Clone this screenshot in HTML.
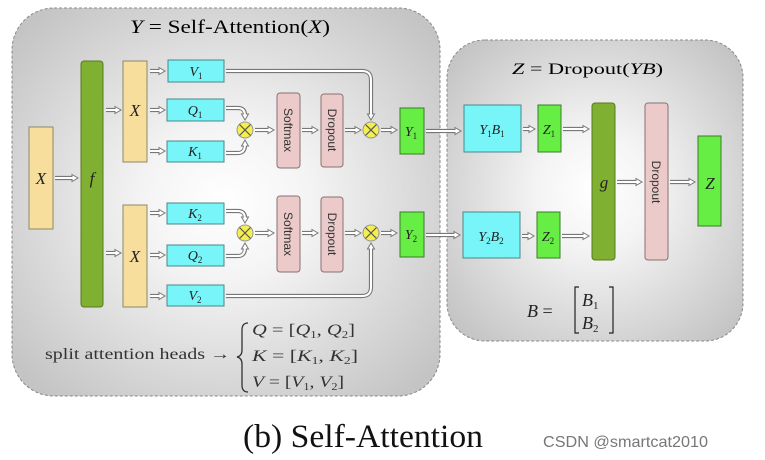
<!DOCTYPE html>
<html><head><meta charset="utf-8"><style>
html,body{margin:0;padding:0;background:#fff;width:765px;height:460px;overflow:hidden}
svg{display:block}
.m{font-family:"Liberation Serif",serif;font-style:italic}
.r{font-family:"Liberation Serif",serif}
.o{fill:none;stroke:#777;stroke-width:4.2}
.i{fill:none;stroke:#fff;stroke-width:2}
</style></head><body>
<svg width="765" height="460" viewBox="0 0 765 460" xmlns="http://www.w3.org/2000/svg">
<defs>
<radialGradient id="bg" cx="50%" cy="50%" r="65%">
<stop offset="0" stop-color="#ffffff"/><stop offset="0.3" stop-color="#f4f4f4"/><stop offset="1" stop-color="#c4c4c4"/>
</radialGradient>
<marker id="ah" markerUnits="userSpaceOnUse" markerWidth="10" markerHeight="10" refX="2" refY="5" orient="auto">
<path d="M1,1.5 L7,5 L1,8.5 Z" fill="#fff" stroke="#777" stroke-width="1"/>
</marker>
</defs>
<rect x="12" y="8" width="428" height="388" rx="42" fill="url(#bg)" stroke="#888" stroke-dasharray="3,2"/>
<rect x="447" y="40" width="296" height="301" rx="38" fill="url(#bg)" stroke="#888" stroke-dasharray="3,2"/>

<text x="130" y="33" font-size="19" class="r" textLength="200" lengthAdjust="spacingAndGlyphs"><tspan class="m">Y</tspan> = Self-Attention(<tspan class="m">X</tspan>)</text>
<text x="512" y="74" font-size="16" class="r" textLength="151" lengthAdjust="spacingAndGlyphs"><tspan class="m">Z</tspan> = Dropout(<tspan class="m">YB</tspan>)</text>

<g stroke="#8a8a6a" stroke-width="1">
<rect x="29" y="127" width="24" height="102" fill="#f8de9c"/>
<rect x="81" y="61" width="22" height="246" rx="3" fill="#7fb031" stroke="#5a7a20"/>
<rect x="123" y="61" width="24" height="101" fill="#f8de9c"/>
<rect x="123" y="205" width="24" height="102" fill="#f8de9c"/>
</g>
<g fill="#77f5f8" stroke="#4a8888" stroke-width="1">
<rect x="168" y="60" width="56" height="22"/>
<rect x="167" y="99" width="57" height="22"/>
<rect x="167" y="141" width="57" height="21"/>
<rect x="167" y="203" width="57" height="21"/>
<rect x="167" y="245" width="57" height="21"/>
<rect x="167" y="285" width="57" height="21"/>
<rect x="464" y="105" width="57" height="47"/>
<rect x="463" y="212" width="57" height="46"/>
</g>
<g fill="#eccaca" stroke="#8a7070" stroke-width="1">
<rect x="277" y="93" width="23" height="75" rx="3"/>
<rect x="321" y="94" width="22" height="73" rx="3"/>
<rect x="277" y="196" width="23" height="76" rx="3"/>
<rect x="321" y="197" width="22" height="75" rx="3"/>
<rect x="645" y="103" width="23" height="157" rx="3"/>
</g>
<g fill="#66ee44" stroke="#3a7a2a" stroke-width="1">
<rect x="400" y="108" width="24" height="46"/>
<rect x="400" y="212" width="24" height="45"/>
<rect x="538" y="105" width="23" height="47"/>
<rect x="537" y="212" width="23" height="46"/>
<rect x="698" y="136" width="23" height="90"/>
</g>
<rect x="592" y="103" width="23" height="157" rx="3" fill="#7fb031" stroke="#5a7a20"/>

<g>
<path class="o" marker-end="url(#ah)" d="M55,178 H73"/>
<path class="o" marker-end="url(#ah)" d="M106,110 H116"/>
<path class="o" marker-end="url(#ah)" d="M106,253 H116"/>
<path class="o" marker-end="url(#ah)" d="M150,71 H160"/>
<path class="o" marker-end="url(#ah)" d="M150,110 H160"/>
<path class="o" marker-end="url(#ah)" d="M150,151 H160"/>
<path class="o" marker-end="url(#ah)" d="M150,213 H160"/>
<path class="o" marker-end="url(#ah)" d="M150,255 H160"/>
<path class="o" marker-end="url(#ah)" d="M150,296 H160"/>
<path class="o" marker-end="url(#ah)" d="M226,108 H238 Q245,108 245,115"/>
<path class="o" marker-end="url(#ah)" d="M226,153 H238 Q245,153 245,145"/>
<path class="o" marker-end="url(#ah)" d="M226,211 H238 Q245,211 245,218"/>
<path class="o" marker-end="url(#ah)" d="M226,256 H238 Q245,256 245,248"/>
<path class="o" marker-end="url(#ah)" d="M226,71 H362 Q371,71 371,80 V115"/>
<path class="o" marker-end="url(#ah)" d="M226,296 H362 Q371,296 371,287 V248"/>
<path class="o" marker-end="url(#ah)" d="M255,130 H269"/>
<path class="o" marker-end="url(#ah)" d="M302,130 H313"/>
<path class="o" marker-end="url(#ah)" d="M345,130 H356"/>
<path class="o" marker-end="url(#ah)" d="M381,130 H392"/>
<path class="o" marker-end="url(#ah)" d="M255,233 H269"/>
<path class="o" marker-end="url(#ah)" d="M302,233 H313"/>
<path class="o" marker-end="url(#ah)" d="M345,233 H356"/>
<path class="o" marker-end="url(#ah)" d="M381,233 H392"/>
<path class="o" marker-end="url(#ah)" d="M426,131 H456"/>
<path class="o" marker-end="url(#ah)" d="M426,235 H455"/>
<path class="o" marker-end="url(#ah)" d="M523,129 H530"/>
<path class="o" marker-end="url(#ah)" d="M563,129 H584"/>
<path class="o" marker-end="url(#ah)" d="M522,236 H529"/>
<path class="o" marker-end="url(#ah)" d="M562,236 H584"/>
<path class="o" marker-end="url(#ah)" d="M617,182 H637"/>
<path class="o" marker-end="url(#ah)" d="M670,182 H690"/>
</g>
<g>
<path class="i" d="M55,178 H74"/><path class="i" d="M106,110 H117"/><path class="i" d="M106,253 H117"/>
<path class="i" d="M150,71 H161"/><path class="i" d="M150,110 H161"/><path class="i" d="M150,151 H161"/>
<path class="i" d="M150,213 H161"/><path class="i" d="M150,255 H161"/><path class="i" d="M150,296 H161"/>
<path class="i" d="M226,108 H238 Q245,108 245,116"/><path class="i" d="M226,153 H238 Q245,153 245,144"/>
<path class="i" d="M226,211 H238 Q245,211 245,219"/><path class="i" d="M226,256 H238 Q245,256 245,247"/>
<path class="i" d="M226,71 H362 Q371,71 371,80 V116"/><path class="i" d="M226,296 H362 Q371,296 371,287 V247"/>
<path class="i" d="M255,130 H270"/><path class="i" d="M302,130 H314"/><path class="i" d="M345,130 H357"/><path class="i" d="M381,130 H393"/>
<path class="i" d="M255,233 H270"/><path class="i" d="M302,233 H314"/><path class="i" d="M345,233 H357"/><path class="i" d="M381,233 H393"/>
<path class="i" d="M426,131 H457"/><path class="i" d="M426,235 H456"/>
<path class="i" d="M523,129 H531"/><path class="i" d="M563,129 H585"/>
<path class="i" d="M522,236 H530"/><path class="i" d="M562,236 H585"/>
<path class="i" d="M617,182 H638"/><path class="i" d="M670,182 H691"/>
</g>

<g fill="#f5ee50" stroke="#999" stroke-width="1">
<circle cx="245" cy="130" r="8"/><circle cx="371" cy="130" r="8"/>
<circle cx="245" cy="233" r="8"/><circle cx="371" cy="233" r="8"/>
</g>
<g stroke="#555" stroke-width="1.2">
<path d="M239.5,124.5 L250.5,135.5 M250.5,124.5 L239.5,135.5"/>
<path d="M365.5,124.5 L376.5,135.5 M376.5,124.5 L365.5,135.5"/>
<path d="M239.5,227.5 L250.5,238.5 M250.5,227.5 L239.5,238.5"/>
<path d="M365.5,227.5 L376.5,238.5 M376.5,227.5 L365.5,238.5"/>
</g>

<g class="m" font-size="17" text-anchor="middle" fill="#222">
<text x="41" y="184">X</text>
<text x="92" y="184">f</text>
<text x="135" y="116">X</text>
<text x="135" y="262">X</text>
<text x="604" y="188">g</text>
<text x="710" y="189">Z</text>
</g>
<g class="m" font-size="14" text-anchor="middle" fill="#222">
<text x="196" y="76">V<tspan font-size="9" font-style="normal" dy="3">1</tspan></text>
<text x="195" y="115">Q<tspan font-size="9" font-style="normal" dy="3">1</tspan></text>
<text x="195" y="156">K<tspan font-size="9" font-style="normal" dy="3">1</tspan></text>
<text x="195" y="218">K<tspan font-size="9" font-style="normal" dy="3">2</tspan></text>
<text x="195" y="260">Q<tspan font-size="9" font-style="normal" dy="3">2</tspan></text>
<text x="195" y="300">V<tspan font-size="9" font-style="normal" dy="3">2</tspan></text>
<text x="411" y="136">Y<tspan font-size="9" font-style="normal" dy="3">1</tspan></text>
<text x="411" y="239">Y<tspan font-size="9" font-style="normal" dy="3">2</tspan></text>
<text x="549" y="134">Z<tspan font-size="9" font-style="normal" dy="3">1</tspan></text>
<text x="548" y="241">Z<tspan font-size="9" font-style="normal" dy="3">2</tspan></text>
<text x="492" y="134">Y<tspan font-size="9" font-style="normal" dy="3">1</tspan><tspan dy="-3">B</tspan><tspan font-size="9" font-style="normal" dy="3">1</tspan></text>
<text x="491" y="241">Y<tspan font-size="9" font-style="normal" dy="3">2</tspan><tspan dy="-3">B</tspan><tspan font-size="9" font-style="normal" dy="3">2</tspan></text>
</g>
<g font-family="Liberation Sans, sans-serif" font-size="12" fill="#333" text-anchor="middle">
<text transform="translate(284,130) rotate(90)">Softmax</text>
<text transform="translate(328,130) rotate(90)">Dropout</text>
<text transform="translate(284,234) rotate(90)">Softmax</text>
<text transform="translate(328,234) rotate(90)">Dropout</text>
<text transform="translate(652,182) rotate(90)">Dropout</text>
</g>

<text x="45" y="359" font-size="16" class="r" fill="#333" textLength="185" lengthAdjust="spacingAndGlyphs">split attention heads →</text>
<path d="M248,323 Q242,323 242,330 V350 Q242,356 237,357 Q242,358 242,364 V385 Q242,392 248,392" fill="none" stroke="#333" stroke-width="1.3"/>
<g class="r" font-size="16" fill="#333">
<text x="252" y="335" textLength="103" lengthAdjust="spacingAndGlyphs"><tspan class="m">Q</tspan> = [<tspan class="m">Q</tspan><tspan font-size="10" dy="3">1</tspan><tspan dy="-3">, </tspan><tspan class="m">Q</tspan><tspan font-size="10" dy="3">2</tspan><tspan dy="-3">]</tspan></text>
<text x="252" y="361" textLength="106" lengthAdjust="spacingAndGlyphs"><tspan class="m">K</tspan> = [<tspan class="m">K</tspan><tspan font-size="10" dy="3">1</tspan><tspan dy="-3">, </tspan><tspan class="m">K</tspan><tspan font-size="10" dy="3">2</tspan><tspan dy="-3">]</tspan></text>
<text x="252" y="387" textLength="92" lengthAdjust="spacingAndGlyphs"><tspan class="m">V</tspan> = [<tspan class="m">V</tspan><tspan font-size="10" dy="3">1</tspan><tspan dy="-3">, </tspan><tspan class="m">V</tspan><tspan font-size="10" dy="3">2</tspan><tspan dy="-3">]</tspan></text>
</g>

<g class="r" font-size="18" fill="#222">
<text x="527" y="317"><tspan class="m">B</tspan> =</text>
<path d="M579,287 H575 V333 H579 M609,287 H613 V333 H609" fill="none" stroke="#222" stroke-width="1.2"/>
<text x="582" y="306"><tspan class="m">B</tspan><tspan font-size="11" dy="3">1</tspan></text>
<text x="582" y="329"><tspan class="m">B</tspan><tspan font-size="11" dy="3">2</tspan></text>
</g>

<text x="243" y="447" font-size="33" class="r" fill="#111" textLength="240" lengthAdjust="spacingAndGlyphs">(b) Self-Attention</text>
<text x="543" y="447" font-size="16" font-family="Liberation Sans, sans-serif" fill="#777" textLength="165" lengthAdjust="spacingAndGlyphs">CSDN @smartcat2010</text>
</svg>
</body></html>
